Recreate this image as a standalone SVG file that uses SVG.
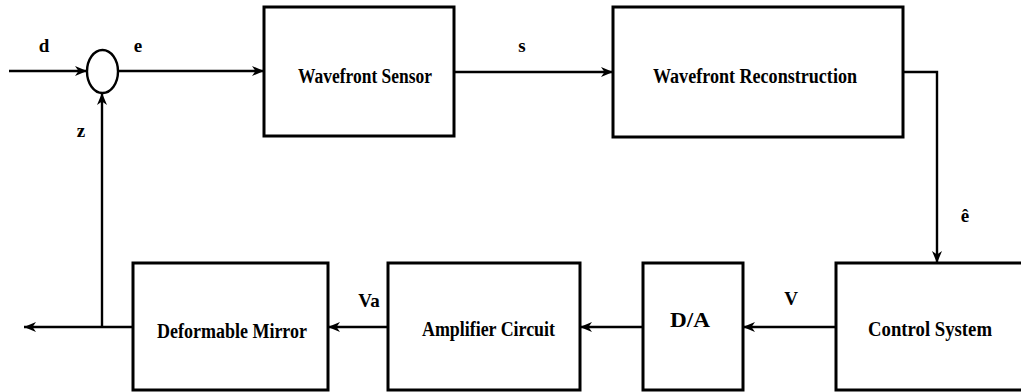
<svg xmlns="http://www.w3.org/2000/svg" width="1021" height="392" viewBox="0 0 1021 392">
<style>
.box{fill:#fff;stroke:#000;stroke-width:3}
.ln{fill:none;stroke:#000;stroke-width:2.4}
.t{font-family:"Liberation Serif","Times New Roman",serif;font-weight:bold;font-size:20px;fill:#000}
.lb{font-family:"Liberation Serif","Times New Roman",serif;font-weight:bold;font-size:19px;fill:#000}
</style>
<defs>
<marker id="ah" viewBox="0 0 12 10" refX="12" refY="5" markerWidth="12" markerHeight="10" markerUnits="userSpaceOnUse" orient="auto">
<path d="M0,0 L12,5 L0,10 L3.5,5 Z" fill="#000"/>
</marker>
</defs>
<rect width="1021" height="392" fill="#fff"/>
<g id="connectors">
<line class="ln" x1="9" y1="71" x2="87" y2="71" marker-end="url(#ah)"/>
<line class="ln" x1="118" y1="71" x2="264" y2="71" marker-end="url(#ah)"/>
<line class="ln" x1="454" y1="72" x2="613" y2="72" marker-end="url(#ah)"/>
<polyline class="ln" points="903,72 937,72 937,263" marker-end="url(#ah)"/>
<line class="ln" x1="836" y1="327" x2="743" y2="327" marker-end="url(#ah)"/>
<line class="ln" x1="643" y1="327" x2="580" y2="327" marker-end="url(#ah)"/>
<line class="ln" x1="388" y1="327" x2="328" y2="327" marker-end="url(#ah)"/>
<line class="ln" x1="133" y1="327" x2="24" y2="327" marker-end="url(#ah)"/>
<line class="ln" x1="102" y1="327" x2="102" y2="93" marker-end="url(#ah)"/>
<text class="lb" x="44" y="52" text-anchor="middle">d</text>
<text class="lb" x="138" y="52" text-anchor="middle">e</text>
<text class="lb" x="522" y="52" text-anchor="middle">s</text>
<text class="lb" x="81" y="137" text-anchor="middle">z</text>
<text class="lb" x="965" y="222" text-anchor="middle">ê</text>
<text class="lb" x="791" y="305" text-anchor="middle">V</text>
<text class="lb" x="369" y="307" text-anchor="middle">Va</text>
</g>
<g id="summer">
<ellipse cx="102.5" cy="71.5" rx="15.5" ry="21.5" fill="#fff" stroke="#000" stroke-width="2.4"/>
</g>
<g id="wavefront-sensor">
<rect class="box" x="264" y="7" width="190" height="129"/>
<text class="t" x="298" y="83" textLength="134" lengthAdjust="spacingAndGlyphs">Wavefront Sensor</text>
</g>
<g id="wavefront-reconstruction">
<rect class="box" x="613" y="7" width="290" height="130"/>
<text class="t" x="653" y="83" textLength="204" lengthAdjust="spacingAndGlyphs">Wavefront Reconstruction</text>
</g>
<g id="control-system">
<rect class="box" x="836" y="263" width="190" height="127"/>
<text class="t" x="868" y="336" textLength="124" lengthAdjust="spacingAndGlyphs">Control System</text>
</g>
<g id="da">
<rect class="box" x="643" y="263" width="100" height="127"/>
<text class="t" x="670" y="327" textLength="40" lengthAdjust="spacingAndGlyphs">D/A</text>
</g>
<g id="amplifier-circuit">
<rect class="box" x="388" y="263" width="192" height="127"/>
<text class="t" x="422" y="336" textLength="133" lengthAdjust="spacingAndGlyphs">Amplifier Circuit</text>
</g>
<g id="deformable-mirror">
<rect class="box" x="133" y="263" width="195" height="127"/>
<text class="t" x="157" y="338" textLength="150" lengthAdjust="spacingAndGlyphs">Deformable Mirror</text>
</g>
</svg>
